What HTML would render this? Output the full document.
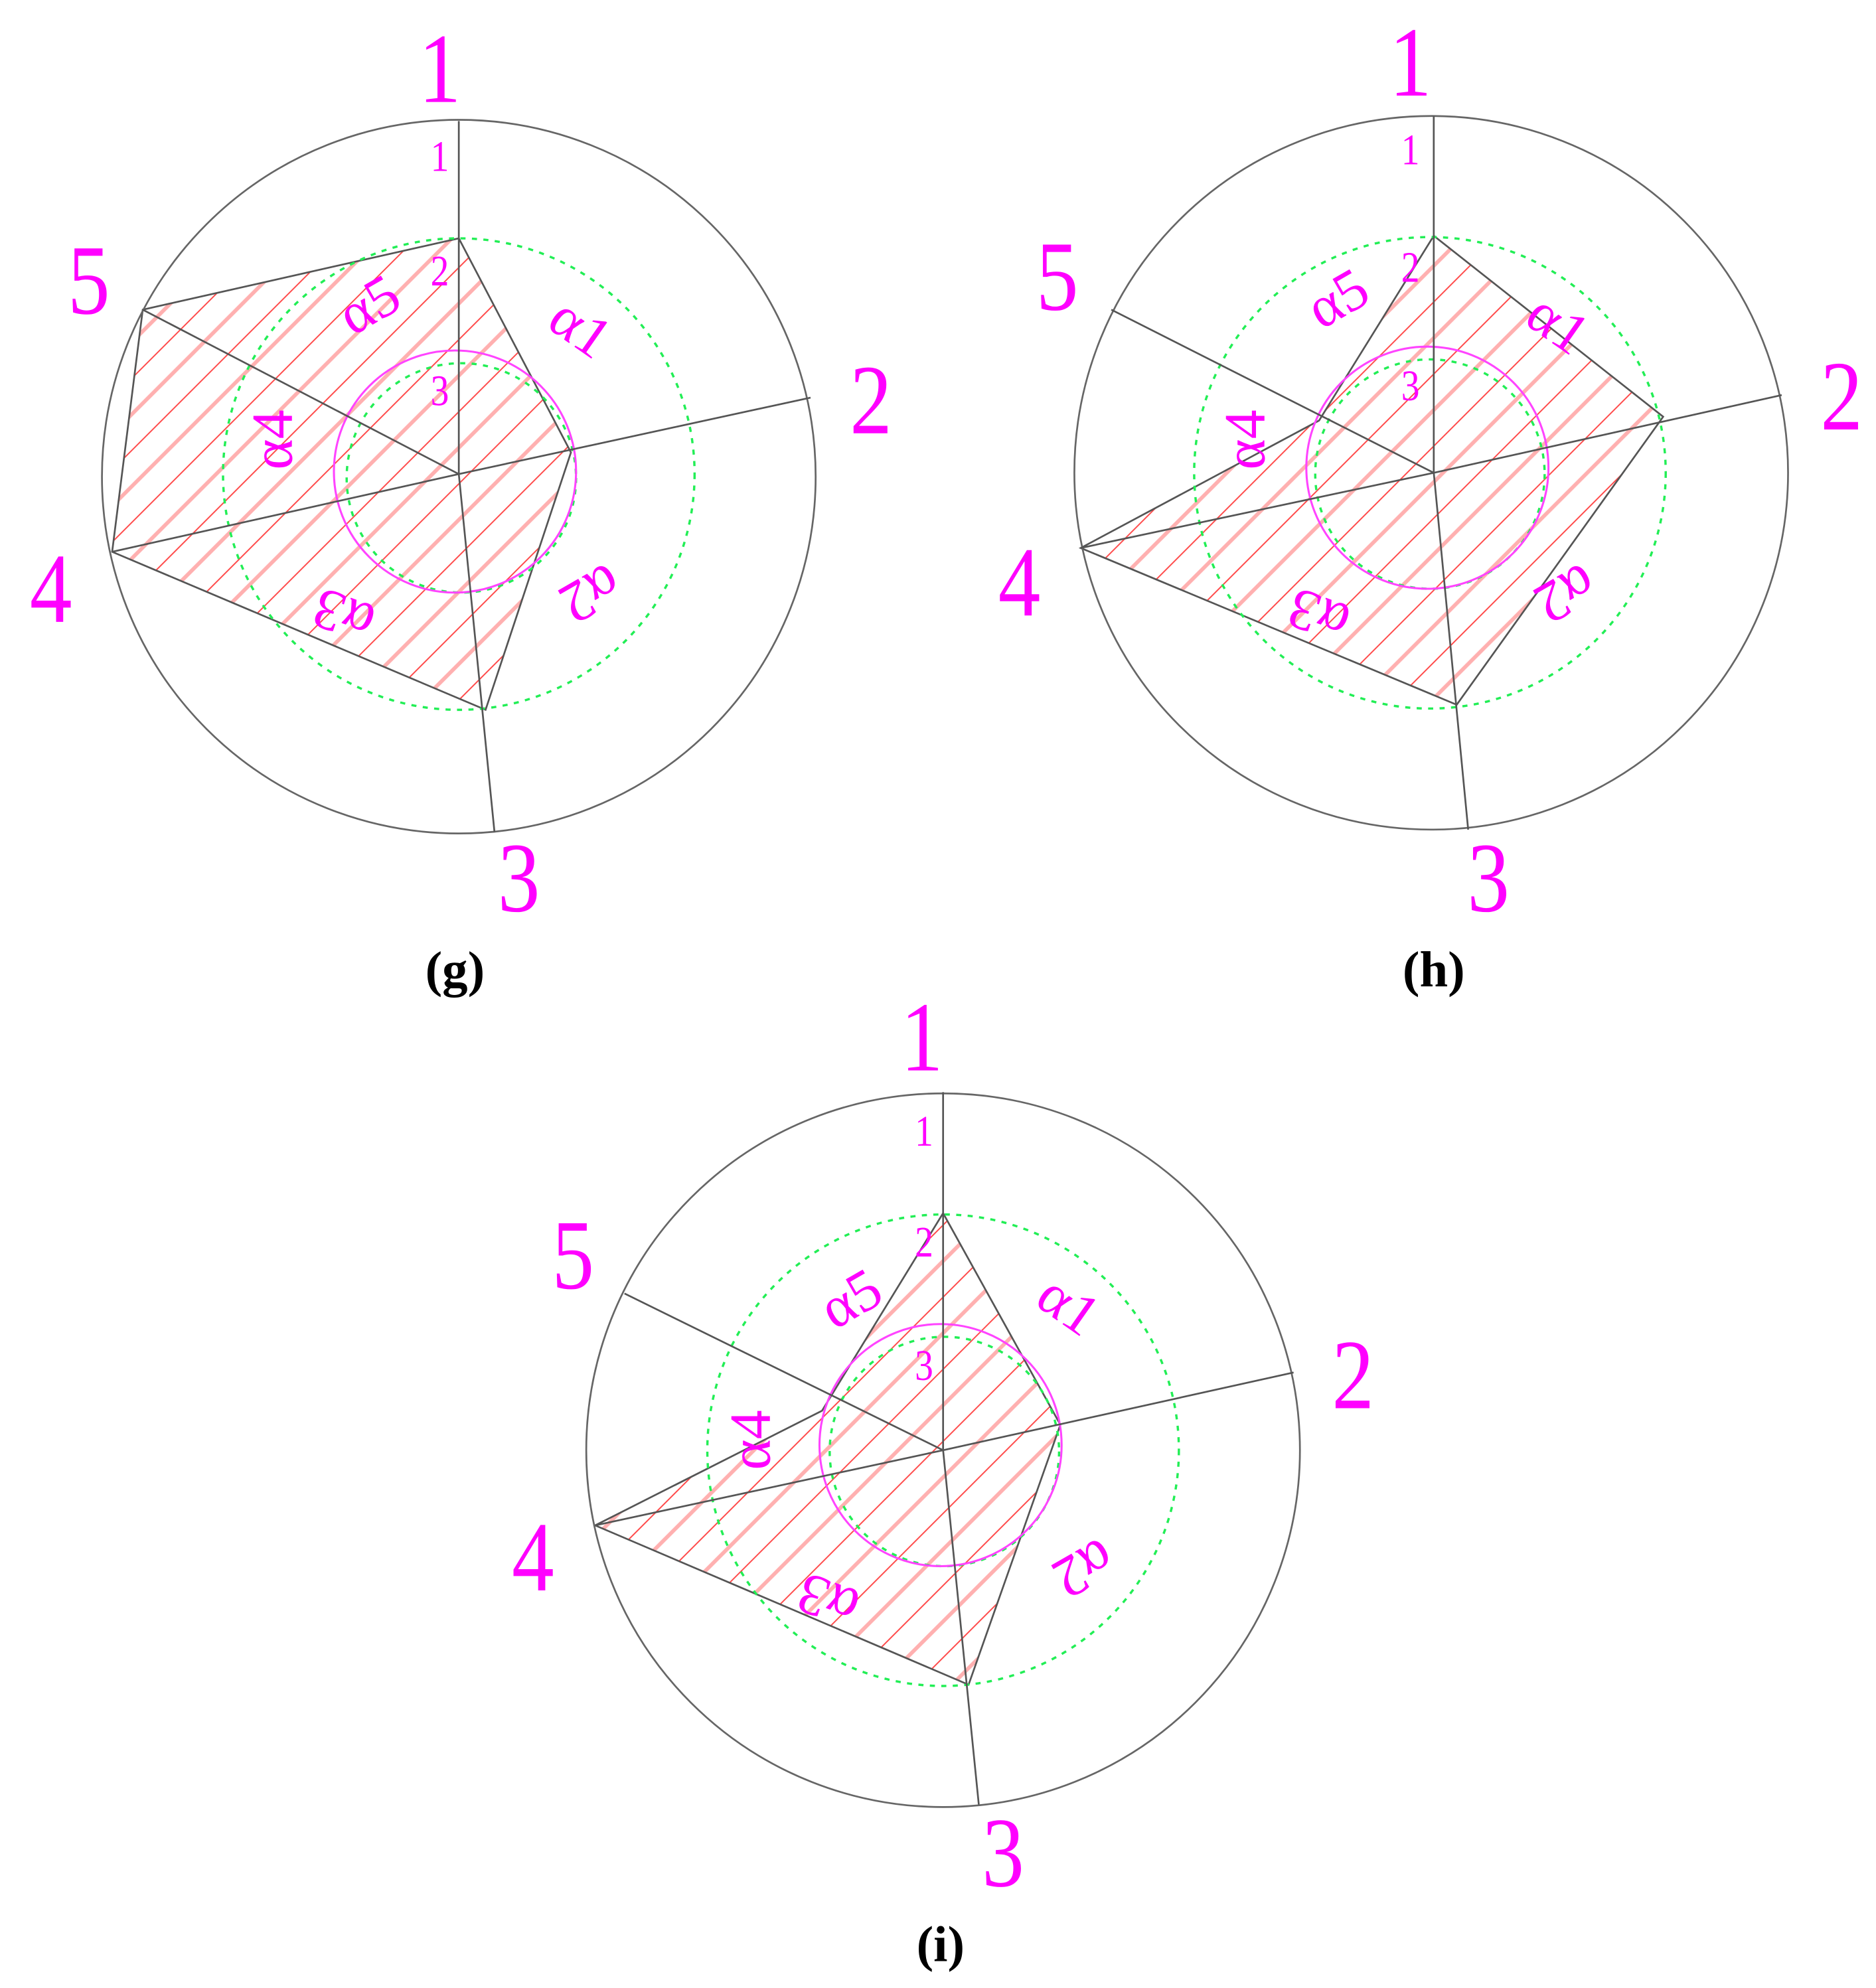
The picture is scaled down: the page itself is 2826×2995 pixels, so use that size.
<!DOCTYPE html>
<html><head><meta charset="utf-8"><style>html,body{margin:0;padding:0;background:#fff}svg{display:block}</style></head>
<body>
<svg width="2826" height="2995" viewBox="0 0 1472 1560" xmlns="http://www.w3.org/2000/svg">
<defs>
<pattern id="h" patternUnits="userSpaceOnUse" width="40" height="40" patternTransform="rotate(-45)">
<line x1="0" y1="3" x2="40" y2="3" stroke="#ff4040" stroke-width="1"/>
<line x1="0" y1="23" x2="40" y2="23" stroke="#ffb0b0" stroke-width="3"/>
</pattern>
<style>
.c{fill:none;stroke:#666;stroke-width:1.4}
.g{fill:none;stroke:#22ee55;stroke-width:1.8;stroke-dasharray:4 5}
.m{fill:none;stroke:#ff44ff;stroke-width:1.6}
.l{stroke:#555;stroke-width:1.4}
.p{fill:url(#h);stroke:#555;stroke-width:1.4}
.B{font-family:"Liberation Serif",serif;font-size:78px;fill:#ff00ff;text-anchor:middle}
.S{font-family:"Liberation Serif",serif;font-size:34px;fill:#ff00ff;text-anchor:middle}
.A{font-family:"Liberation Serif",serif;font-size:46px;fill:#ff00ff;text-anchor:middle}
.K{font-family:"Liberation Serif",serif;font-size:40px;font-weight:bold;fill:#000;text-anchor:middle}
</style>
</defs>

<!-- panel g -->
<polygon class="p" points="112,243 360,187 448,355 381,557 88,433"/>
<circle class="c" cx="360" cy="374" r="280"/>
<circle class="g" cx="360" cy="372" r="185"/>
<circle class="g" cx="362" cy="375" r="90"/>
<circle class="m" cx="357" cy="370" r="95"/>
<line class="l" x1="360" y1="372" x2="360" y2="95"/>
<line class="l" x1="360" y1="372" x2="636" y2="312"/>
<line class="l" x1="360" y1="372" x2="388" y2="653"/>
<line class="l" x1="360" y1="372" x2="88" y2="433"/>
<line class="l" x1="360" y1="372" x2="112" y2="243"/>
<g transform="scale(0.85,1)">
<text class="B" x="406" y="80">1</text>
<text class="B" x="804" y="340">2</text>
<text class="B" x="479" y="715">3</text>
<text class="B" x="47" y="488">4</text>
<text class="B" x="82" y="246">5</text>
<text class="S" x="406" y="134">1</text>
<text class="S" x="406" y="224">2</text>
<text class="S" x="406" y="318">3</text>
</g>
<text class="A" transform="translate(455,258) rotate(35)" y="14">α1</text>
<text class="A" transform="translate(290,240) rotate(-30)" y="14">α5</text>
<text class="A" transform="translate(215,345) rotate(-90)" y="14">α4</text>
<text class="A" transform="translate(270,482) rotate(200)" y="14">α3</text>
<text class="A" transform="translate(463,465) rotate(150)" y="14">α2</text>
<text class="K" x="357" y="774">(g)</text>

<!-- panel h -->
<polygon class="p" points="1125,185 1305,327 1143,553 848,430 1035,330"/>
<circle class="c" cx="1123" cy="371" r="280"/>
<circle class="g" cx="1122" cy="371" r="185"/>
<circle class="g" cx="1122" cy="372" r="90"/>
<circle class="m" cx="1120" cy="367" r="95"/>
<line class="l" x1="1125" y1="371" x2="1125" y2="91"/>
<line class="l" x1="1125" y1="371" x2="1398" y2="310"/>
<line class="l" x1="1125" y1="371" x2="1152" y2="651"/>
<line class="l" x1="1125" y1="371" x2="848" y2="430"/>
<line class="l" x1="1125" y1="371" x2="872" y2="243"/>
<g transform="scale(0.85,1)">
<text class="B" x="1302" y="75">1</text>
<text class="B" x="1700" y="337">2</text>
<text class="B" x="1374" y="715">3</text>
<text class="B" x="941" y="483">4</text>
<text class="B" x="976" y="243">5</text>
<text class="S" x="1302" y="129">1</text>
<text class="S" x="1302" y="221">2</text>
<text class="S" x="1302" y="314">3</text>
</g>
<text class="A" transform="translate(1222,255) rotate(35)" y="14">α1</text>
<text class="A" transform="translate(1050,235) rotate(-30)" y="14">α5</text>
<text class="A" transform="translate(978,345) rotate(-90)" y="14">α4</text>
<text class="A" transform="translate(1035,482) rotate(200)" y="14">α3</text>
<text class="A" transform="translate(1228,465) rotate(150)" y="14">α2</text>
<text class="K" x="1125" y="774">(h)</text>

<!-- panel i -->
<polygon class="p" points="740,952 832,1118 760,1322 467,1197 645,1107"/>
<circle class="c" cx="740" cy="1138" r="280"/>
<circle class="g" cx="740" cy="1138" r="185"/>
<circle class="g" cx="741" cy="1139" r="90"/>
<circle class="m" cx="738" cy="1134" r="95"/>
<line class="l" x1="740" y1="1138" x2="740" y2="857"/>
<line class="l" x1="740" y1="1138" x2="1015" y2="1077"/>
<line class="l" x1="740" y1="1138" x2="768" y2="1416"/>
<line class="l" x1="740" y1="1138" x2="467" y2="1197"/>
<line class="l" x1="740" y1="1138" x2="490" y2="1015"/>
<g transform="scale(0.85,1)">
<text class="B" x="851" y="840">1</text>
<text class="B" x="1249" y="1105">2</text>
<text class="B" x="926" y="1480">3</text>
<text class="B" x="492" y="1248">4</text>
<text class="B" x="529" y="1011">5</text>
<text class="S" x="853" y="899">1</text>
<text class="S" x="853" y="986">2</text>
<text class="S" x="853" y="1083">3</text>
</g>
<text class="A" transform="translate(838,1025) rotate(35)" y="14">α1</text>
<text class="A" transform="translate(668,1020) rotate(-30)" y="14">α5</text>
<text class="A" transform="translate(590,1130) rotate(-90)" y="14">α4</text>
<text class="A" transform="translate(650,1255) rotate(200)" y="14">α3</text>
<text class="A" transform="translate(850,1230) rotate(150)" y="14">α2</text>
<text class="K" x="738" y="1539">(i)</text>
</svg>
</body></html>
